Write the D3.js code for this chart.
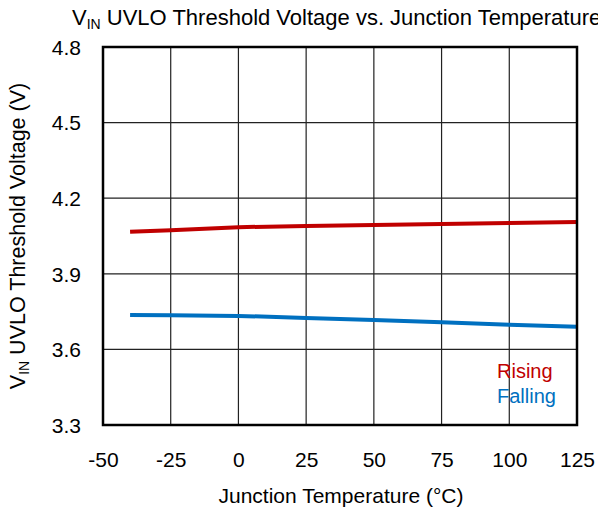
<!DOCTYPE html>
<html>
<head>
<meta charset="utf-8">
<script src="https://cdn.jsdelivr.net/npm/d3@7"></script>
<style>
  body { margin: 0; background: #fff; }
  svg { display: block; font-family: Arial, "Liberation Sans", sans-serif; }
</style>
</head>
<body>
<svg width="598" height="512"></svg>
<script>
// data
var temps = [-40, -25, 0, 25, 50, 75, 100, 125];
var rising = [4.067, 4.073, 4.085, 4.090, 4.094, 4.098, 4.102, 4.106];
var falling = [3.737, 3.736, 3.733, 3.725, 3.717, 3.708, 3.698, 3.690];
var seriesNames = ["Rising", "Falling"];
var seriesColors = ["#C00000", "#0070C0"];
var xTicks = [-50, -25, 0, 25, 50, 75, 100, 125];
var yTicks = [3.3, 3.6, 3.9, 4.2, 4.5, 4.8];

var svg = d3.select("svg"),
    margin = {top: 47, right: 21, bottom: 87, left: 103},
    width = +svg.attr("width") - margin.left - margin.right,
    height = +svg.attr("height") - margin.top - margin.bottom;

var g = svg.append("g")
    .attr("transform", "translate(" + margin.left + "," + margin.top + ")");

var x = d3.scaleLinear().domain([-50, 125]).range([0, width]);
var y = d3.scaleLinear().domain([3.3, 4.8]).range([height, 0]);

// grid
g.append("g")
    .selectAll("line")
    .data(xTicks.slice(1, -1))
    .enter().append("line")
    .attr("x1", function(d) { return x(d); })
    .attr("x2", function(d) { return x(d); })
    .attr("y1", 0)
    .attr("y2", height)
    .attr("stroke", "#222")
    .attr("stroke-width", 1.2);

g.append("g")
    .selectAll("line")
    .data(yTicks.slice(1, -1))
    .enter().append("line")
    .attr("x1", 0)
    .attr("x2", width)
    .attr("y1", function(d) { return y(d); })
    .attr("y2", function(d) { return y(d); })
    .attr("stroke", "#222")
    .attr("stroke-width", 1.2);

// axes (labels only)
var xAxis = g.append("g")
    .attr("transform", "translate(0," + height + ")")
    .call(d3.axisBottom(x).tickValues(xTicks)
        .tickFormat(function(d) { return String(d); })
        .tickSize(0).tickPadding(0));
xAxis.select(".domain").remove();
xAxis.selectAll("text")
    .attr("dy", null)
    .attr("y", 42)
    .style("font-size", "21px")
    .attr("fill", "#000");

var yAxis = g.append("g")
    .call(d3.axisLeft(y).tickValues(yTicks).tickFormat(d3.format(".1f")).tickSize(0).tickPadding(0));
yAxis.select(".domain").remove();
yAxis.selectAll("text")
    .attr("x", -22)
    .attr("dy", "0.35em")
    .style("font-size", "21px")
    .attr("fill", "#000");

// lines
var line = d3.line()
    .x(function(d, i) { return x(temps[i]); })
    .y(function(d) { return y(d); });

[rising, falling].forEach(function(s, i) {
    g.append("path")
        .datum(s)
        .attr("fill", "none")
        .attr("stroke", seriesColors[i])
        .attr("stroke-width", 4)
        .attr("d", line);
});

// frame
g.append("rect")
    .attr("width", width)
    .attr("height", height)
    .attr("fill", "none")
    .attr("stroke", "#000")
    .attr("stroke-width", 2.5);

// legend
g.selectAll(".legend")
    .data(seriesNames)
    .enter().append("text")
    .attr("class", "legend")
    .attr("x", 394)
    .attr("y", function(d, i) { return 331 + i * 25; })
    .attr("fill", function(d, i) { return seriesColors[i]; })
    .style("font-size", "20px")
    .text(function(d) { return d; });

// titles
var title = svg.append("text")
    .attr("x", 72)
    .attr("y", 25)
    .style("font-size", "22px")
    .attr("fill", "#000");
title.append("tspan").text("V");
title.append("tspan").attr("dy", 4).style("font-size", "14px").text("IN");
title.append("tspan").attr("dy", -4).text(" UVLO Threshold Voltage vs. Junction Temperature");

svg.append("text")
    .attr("x", 341)
    .attr("y", 503)
    .attr("text-anchor", "middle")
    .style("font-size", "21px")
    .attr("fill", "#000")
    .text("Junction Temperature (\u00B0C)");

var yTitle = svg.append("text")
    .attr("transform", "translate(25," + (margin.top + height / 2) + ") rotate(-90)")
    .attr("text-anchor", "middle")
    .style("font-size", "21.5px")
    .attr("fill", "#000");
yTitle.append("tspan").text("V");
yTitle.append("tspan").attr("dy", 4).style("font-size", "14px").text("IN");
yTitle.append("tspan").attr("dy", -4).text(" UVLO Threshold Voltage (V)");
</script>
</body>
</html>
